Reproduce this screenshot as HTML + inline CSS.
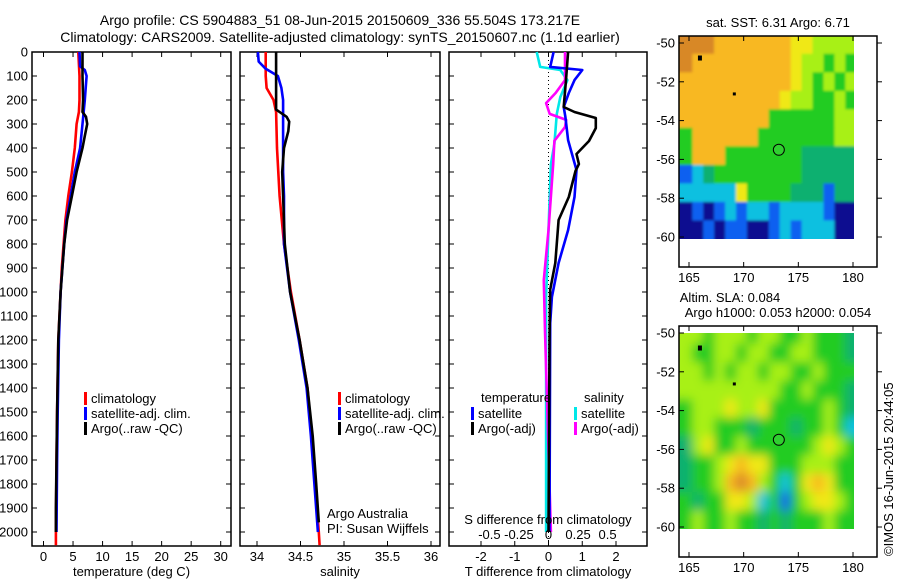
<!DOCTYPE html>
<html><head><meta charset="utf-8"><style>
body{margin:0;background:#fff;}
svg{display:block;font-family:"Liberation Sans",sans-serif;font-size:13px;}
</style></head><body>
<svg id="chart" width="900" height="580" viewBox="0 0 900 580">
<defs>
<filter id="blur" x="-5%" y="-5%" width="110%" height="110%"><feGaussianBlur stdDeviation="5"/></filter>
<filter id="blur2" x="-5%" y="-5%" width="110%" height="110%"><feGaussianBlur stdDeviation="1.2"/></filter>
<clipPath id="clipSla"><rect x="679" y="333" width="175" height="196"/></clipPath>
<clipPath id="clipSst"><rect x="679" y="36" width="175" height="203"/></clipPath>
</defs>
<g id="titles">
<text x="340" y="25" text-anchor="middle" font-size="14">Argo profile: CS 5904883_51 08-Jun-2015 20150609_336 55.504S 173.217E</text>
<text x="340" y="42" text-anchor="middle" font-size="14">Climatology: CARS2009. Satellite-adjusted climatology: synTS_20150607.nc (1.1d earlier)</text>
</g>
</svg>
<script>
// ---------------- DATA ----------------
const tempClimDepth=[0,100,200,250,300,400,500,600,700,800,900,1000,1200,1500,1700,2000,2055];
const tempClim=[5.9,6.1,6.1,6.0,5.6,5.3,4.8,4.2,3.7,3.4,3.1,2.9,2.5,2.3,2.2,2.1,2.1];
const tempSatDepth=[0,60,75,100,200,300,400,500,600,700,800,900,1000,1200,1500,1700,2000];
const tempSat=[6.1,6.2,7.0,7.3,7.0,6.6,6.2,5.3,4.6,3.9,3.5,3.2,2.9,2.6,2.4,2.3,2.2];
const tempArgoDepth=[0,50,100,200,250,270,300,350,400,500,600,700,800,1000,1200,1500,1900,2000];
const tempArgo=[6.6,6.6,6.6,6.7,6.6,7.2,7.4,7.0,6.6,5.6,4.8,4.0,3.5,2.9,2.5,2.3,2.1,2.1];

const salClimDepth=[0,100,150,200,250,400,600,800,1000,1200,1400,1600,1800,2000,2055];
const salClim=[34.10,34.10,34.11,34.19,34.22,34.23,34.26,34.31,34.39,34.49,34.58,34.63,34.67,34.71,34.72];
const salSatDepth=[0,40,70,100,150,200,300,500,600,800,1000,1200,1400,1600,1800,2000];
const salSat=[34.01,34.02,34.10,34.24,34.28,34.30,34.30,34.30,34.31,34.31,34.38,34.48,34.57,34.62,34.66,34.70];
const salArgoDepth=[0,100,240,270,290,330,400,500,600,800,1000,1200,1400,1600,1800,1960];
const salArgo=[34.22,34.22,34.22,34.34,34.37,34.36,34.31,34.29,34.30,34.32,34.38,34.49,34.58,34.64,34.68,34.71];

const dTSatDepth=[0,62,75,117,171,229,271,367,492,604,742,879,1021,1129,1500,2000];
const dTSat=[0.15,0.05,1.0,0.77,0.6,0.45,0.5,0.58,0.83,0.77,0.58,0.3,0.1,0.05,0.04,0.03];
const dTArgoDepth=[0,117,229,250,275,317,371,425,467,496,604,700,879,990,1200,2000];
const dTArgo=[0.58,0.52,0.45,0.77,1.4,1.4,1.2,0.83,0.9,0.8,0.6,0.3,0.2,0.05,0.03,0.0];
const dSSatDepth=[0,62,75,117,188,258,383,467,742,1021,1200,2000];
const dSSat=[-0.1,-0.07,0.1,0.16,0.1,0.07,0.05,0.02,0,-0.02,-0.02,-0.02];
const dSArgoDepth=[0,117,171,213,258,283,313,370,467,742,950,1163,2000];
const dSArgo=[0.14,0.14,0.06,-0.02,0.01,0.15,0.14,0.05,0.04,0,-0.04,-0.03,0.02];

const depthTicks=[0,100,200,300,400,500,600,700,800,900,1000,1100,1200,1300,1400,1500,1600,1700,1800,1900,2000];
const tempTicks=[0,5,10,15,20,25,30];
const salTicks=[34,34.5,35,35.5,36];
const salTickLabels=["34","34.5","35","35.5","36"];
const dTTicks=[-2,-1,0,1,2];
const dSTicks=[-0.5,-0.25,0,0.25,0.5];
const dSTickLabels=["-0.5","-0.25","0","0.25","0.5"];
const lonTicks=[165,170,175,180];
const latTicks=[-50,-52,-54,-56,-58,-60];
const latTickLabels=["-50","-52","-54","-56","-58","-60"];

// map grids (rows north->south, 1deg cells from 164.3E, -49.5S)
const sstGrid=[
"8887777777665555","8777777777655454","7777777777654545","7777777776554454",
"7777777744444455","4777777444444455","4777444444433333","1234444444433333",
"2222264444333133","0101212212222100","0010110012122200"];
const slaGrid=[
"5545554554454443","5445545544554443","5545455455445444","5555555554454443",
"4555655644444543","4554443444344542","3564454444445654","3445676644455544",
"3445787542467644","4344665241456654","4544544343444544"];
const argoLon=173.217, argoLat=-55.504;

// ---------------- HELPERS ----------------
const svg=document.getElementById('chart');
const NS='http://www.w3.org/2000/svg';
function mk(tag,attrs,parent){const e=document.createElementNS(NS,tag);for(const k in attrs)e.setAttribute(k,attrs[k]);(parent||svg).appendChild(e);return e;}
const Y0=52, YPX=0.24;
function yD(d){return Y0+d*YPX;}
const PB=546;
function lin(v0,p0,v1,p1){return v=>p0+(v-v0)*(p1-p0)/(v1-v0);}
const xT=lin(0,43.5,30,220.7);
const xS=lin(34,257,36,431);
const xDT=lin(0,548.5,2,616);
const xDS=lin(0,548.5,0.5,607.6);

function panel(name,x0,x1,xf,ticks,labels,title,leftLabels,withTopTicks){
  const g=mk('g',{});
  
  
  const r=mk('rect',{x:x0,y:Y0,width:x1-x0,height:PB-Y0,fill:'none',stroke:'#000','stroke-width':1.5},g);
  
  
  depthTicks.forEach(d=>{
    mk('line',{x1:x0,x2:x0+5,y1:yD(d),y2:yD(d),stroke:'#000'},g);
    mk('line',{x1:x1,x2:x1-5,y1:yD(d),y2:yD(d),stroke:'#000'},g);
    if(leftLabels){const t=mk('text',{x:x0-4,y:yD(d)+4.5,'text-anchor':'end'},g);t.textContent=String(d);
      
      }
  });
  ticks.forEach((v,i)=>{
    const px=xf(v);
    mk('line',{x1:px,x2:px,y1:PB,y2:PB-5,stroke:'#000'},g);
    if(withTopTicks)mk('line',{x1:px,x2:px,y1:Y0,y2:Y0+5,stroke:'#000'},g);
    const t=mk('text',{x:px,y:PB+15,'text-anchor':'middle'},g);t.textContent=labels[i];
    
    
  });
  const tt=mk('text',{x:(x0+x1)/2,y:576,'text-anchor':'middle'},g);tt.textContent=title;
  
  
  return g;
}
function series(name,depths,vals,xf,color){
  let d='';
  depths.forEach((dp,i)=>{d+=(i?'L':'M')+xf(vals[i]).toFixed(1)+','+yD(dp).toFixed(1);});
  const p=mk('path',{d:d,fill:'none',stroke:color,'stroke-width':2.6,'stroke-linejoin':'round'});
  
  
}
function legend(name,x,y,color,label){
  const g=mk('g',{});
  
  
  mk('rect',{x:x,y:y-10,width:3,height:13,fill:color},g);
  const t=mk('text',{x:x+7,y:y+1},g);t.textContent=label;
}
function txt(name,x,y,s,anchor){
  const t=mk('text',{x:x,y:y,'text-anchor':anchor||'start'});t.textContent=s;
  
  
  return t;
}

// ---------------- PANELS ----------------
panel('temperature-panel',32,231,xT,tempTicks,tempTicks.map(String),'temperature (deg C)',true,true);
panel('salinity-panel',240,440,xS,salTicks,salTickLabels,'salinity',false,true);
panel('difference-panel',449,647,xDT,dTTicks,dTTicks.map(String),'T difference from climatology',false,true);

const zl=mk('line',{x1:xDT(0),x2:xDT(0),y1:Y0,y2:PB,stroke:'#000','stroke-dasharray':'1,3'});



series('temp-climatology-line',tempClimDepth,tempClim,xT,'#ff0000');
series('temp-satellite-line',tempSatDepth,tempSat,xT,'#0000ff');
series('temp-argo-line',tempArgoDepth,tempArgo,xT,'#000000');
series('sal-climatology-line',salClimDepth,salClim,xS,'#ff0000');
series('sal-satellite-line',salSatDepth,salSat,xS,'#0000ff');
series('sal-argo-line',salArgoDepth,salArgo,xS,'#000000');
series('dS-satellite-line',dSSatDepth,dSSat,xDS,'#00e8e8');
series('dS-argo-line',dSArgoDepth,dSArgo,xDS,'#ff00ff');
series('dT-satellite-line',dTSatDepth,dTSat,xDT,'#0000ff');
series('dT-argo-line',dTArgoDepth,dTArgo,xDT,'#000000');

legend('legend-climatology',84,402,'#ff0000','climatology');
legend('legend-satellite',84,417,'#0000ff','satellite-adj. clim.');
legend('legend-argo',84,432,'#000000','Argo(..raw -QC)');
legend('legend2-climatology',338,402,'#ff0000','climatology');
legend('legend2-satellite',338,417,'#0000ff','satellite-adj. clim.');
legend('legend2-argo',338,432,'#000000','Argo(..raw -QC)');
txt('legend-temperature-header',481,402,'temperature');
txt('legend-salinity-header',584,402,'salinity');
legend('legend-t-satellite',471,417,'#0000ff','satellite');
legend('legend-t-argo',471,432,'#000000','Argo(-adj)');
legend('legend-s-satellite',574,417,'#00e8e8','satellite');
legend('legend-s-argo',574,432,'#ff00ff','Argo(-adj)');
txt('credit-argo-australia',327,518,'Argo Australia');
txt('credit-pi',327,533,'PI: Susan Wijffels');
txt('s-axis-title',548,524,'S difference from climatology','middle');
dSTicks.forEach((v,i)=>{txt('s-tick-label',xDS(v),539,dSTickLabels[i],'middle');});

// ---------------- MAPS ----------------
const cmap=['#0a1090','#1060f0','#10c0e0','#10b070','#20cc20','#a8f018','#f0e818','#f8b820','#d88828'];
const LON0=164.3, MX0=679, MX1=877;
const xLon=lin(165,689,180,853);
function map(name,grid,top,title1,title2,clip,filt){
  const g=mk('g',{});
  
  
  const yLat=lin(-50,top+7,-60,top+201);
  const cg=mk('g',{'clip-path':'url(#'+clip+')'},g);
  const cells=mk('g',{filter:'url(#'+filt+')'},cg);
  grid.forEach((row,r)=>{
    for(let c=0;c<row.length;c++){
      const v=+row[c];
      const x0=xLon(LON0+c), x1=xLon(LON0+c+1);
      const y0=yLat(-49.6-r*(10.5/11)), y1=yLat(-49.6-(r+1)*(10.5/11));
      const pad=(c==row.length-1?12:0.6), padY=(r==grid.length-1?12:0.6);
      const cell=mk('rect',{x:(c==0?x0-12:x0).toFixed(1),y:(r==0?y0-12:y0).toFixed(1),width:(x1-x0+pad+(c==0?12:0)).toFixed(1),height:(y1-y0+padY+(r==0?12:0)).toFixed(1),fill:cmap[v]},cells);
      
      
    }
  });
  mk('rect',{x:MX0,y:top,width:MX1-MX0,height:231,fill:'none',stroke:'#000','stroke-width':1.5},g);
  latTicks.forEach((v,i)=>{
    const py=yLat(v);
    mk('line',{x1:MX0,x2:MX0+5,y1:py,y2:py,stroke:'#000'},g);
    mk('line',{x1:MX1,x2:MX1+5,y1:py,y2:py,stroke:'#000'},g);
    const t=mk('text',{x:MX0-4,y:py+4.5,'text-anchor':'end'},g);t.textContent=latTickLabels[i];
  });
  lonTicks.forEach(v=>{
    const px=xLon(v);
    mk('line',{x1:px,x2:px,y1:top+231,y2:top+226,stroke:'#000'},g);
    mk('line',{x1:px,x2:px,y1:top,y2:top+5,stroke:'#000'},g);
    const t=mk('text',{x:px,y:top+246,'text-anchor':'middle'},g);t.textContent=String(v);
  });
  const c=mk('circle',{cx:xLon(argoLon),cy:yLat(argoLat),r:5.5,fill:'#30d030',stroke:'#000','stroke-width':1},g);
  
  
  mk('rect',{x:xLon(166)-2,y:yLat(-50.8)-3,width:4,height:5,fill:'#000'},g);
  mk('rect',{x:xLon(169.1)-1,y:yLat(-52.6)-1,width:3,height:3,fill:'#000'},g);
  if(title1){const t=mk('text',{x:730,y:top-24,'text-anchor':'middle'},g);t.textContent=title1;}
  const t2=mk('text',{x:778,y:top-9,'text-anchor':'middle'},g);t2.textContent=title2;
}
map('sst-map',sstGrid,36,null,'sat. SST: 6.31 Argo: 6.71','clipSst','blur2');
map('sla-map',slaGrid,326,'Altim. SLA: 0.084','Argo h1000: 0.053 h2000: 0.054','clipSla','blur');
const cr=mk('text',{x:0,y:0,transform:'translate(893,556) rotate(-90)'});
cr.textContent='©IMOS 16-Jun-2015 20:44:05';


</script>
</body></html>
